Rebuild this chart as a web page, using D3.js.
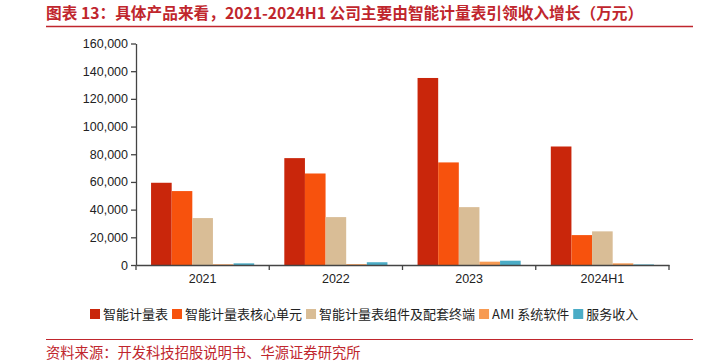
<!DOCTYPE html>
<html>
<head>
<meta charset="utf-8">
<script src="https://cdn.jsdelivr.net/npm/d3@7"></script>
<style>
  body { margin: 0; background: #fff; }
  svg { display: block; }
</style>
</head>
<body>
<svg class="bar-chart"></svg>
<script>
const categories = ['2021', '2022', '2023', '2024H1'];
const seriesNames = ['智能计量表', '智能计量表核心单元', '智能计量表组件及配套终端', 'AMI 系统软件', '服务收入'];
const meter = [59400, 77200, 135100, 85600];
const coreUnit = [53400, 66100, 74100, 21600];
const parts = [33900, 34600, 41800, 24300];
const ami = [500, 600, 2400, 1200];
const service = [1200, 2000, 3100, 400];
const yTicks = [0, 20000, 40000, 60000, 80000, 100000, 120000, 140000, 160000];
const colors = ['#c9260b', '#f7520d', '#d9bd96', '#f79a52', '#4bacc6'];

const svgWidth = 703;
const svgHeight = 361;
const margin = {top: 43.5, right: 34, bottom: 96, left: 136};
const width = svgWidth - margin.left - margin.right;
const height = svgHeight - margin.top - margin.bottom;

const seriesValues = [meter, coreUnit, parts, ami, service];
const data = categories.map((c, i) => ({
    cat: c,
    values: seriesValues.map((s, j) => ({key: seriesNames[j], value: s[i], color: colors[j]}))
}));

const svg = d3.select('.bar-chart')
    .attr('width', svgWidth)
    .attr('height', svgHeight);

// title + rule
svg.append('text')
    .attr('x', 46)
    .attr('y', 19)
    .attr('fill', '#c0262d')
    .attr('font-family', '"Noto Sans CJK SC", sans-serif')
    .attr('font-weight', 'bold')
    .attr('font-size', 15.7)
    .text('图表 13：具体产品来看，2021-2024H1 公司主要由智能计量表引领收入增长（万元）');
svg.append('line')
    .attr('x1', 46).attr('x2', 693)
    .attr('y1', 26.5).attr('y2', 26.5)
    .attr('stroke', '#c0262d')
    .attr('stroke-width', 1.5);

const g = svg.append('g')
    .attr('transform', `translate(${margin.left}, ${margin.top})`);

const x0 = d3.scaleBand()
    .domain(categories)
    .range([0, width])
    .padding(0);
const x1 = d3.scaleBand()
    .domain(seriesNames)
    .range([0, x0.bandwidth()])
    .paddingInner(0)
    .paddingOuter(0.73);
const y = d3.scaleLinear()
    .domain([0, 160000])
    .range([height, 0]);

// bars
g.selectAll('.group')
    .data(data)
    .enter().append('g')
    .attr('transform', d => `translate(${x0(d.cat)}, 0)`)
    .selectAll('rect')
    .data(d => d.values)
    .enter().append('rect')
    .attr('x', d => x1(d.key))
    .attr('y', d => y(d.value))
    .attr('width', x1.bandwidth())
    .attr('height', d => height - y(d.value))
    .attr('fill', d => d.color);

// y axis
const yAxis = g.append('g')
    .call(d3.axisLeft(y)
        .tickValues(yTicks)
        .tickFormat(d3.format(','))
        .tickSize(5)
        .tickSizeOuter(0)
        .tickPadding(3));
yAxis.selectAll('text')
    .attr('font-family', '"Liberation Sans", Arial, sans-serif')
    .attr('font-size', 12.5)
    .attr('fill', '#222');
yAxis.selectAll('line, path')
    .attr('stroke', '#444')
    .attr('stroke-width', 1.3);

// x axis: labels at band centres, ticks at band edges
const xAxis = g.append('g')
    .attr('transform', `translate(0, ${height})`)
    .call(d3.axisBottom(x0).tickSize(0).tickPadding(9));
xAxis.select('.domain')
    .attr('stroke', '#444')
    .attr('stroke-width', 1.3);
xAxis.selectAll('text')
    .attr('font-family', '"Liberation Sans", Arial, sans-serif')
    .attr('font-size', 12.5)
    .attr('fill', '#222');
const edges = categories.map(c => x0(c)).concat([x0(categories[categories.length - 1]) + x0.bandwidth()]);
xAxis.selectAll('.edge')
    .data(edges)
    .enter().append('line')
    .attr('x1', d => d).attr('x2', d => d)
    .attr('y1', 0).attr('y2', 5)
    .attr('stroke', '#444')
    .attr('stroke-width', 1.3);

// legend
const legend = svg.append('g')
    .attr('transform', 'translate(90, 314)');
let lx = 0;
seriesNames.forEach((name, i) => {
    const item = legend.append('g').attr('transform', `translate(${lx}, 0)`);
    item.append('rect')
        .attr('x', 0).attr('y', -5)
        .attr('width', 10).attr('height', 10)
        .attr('fill', colors[i]);
    const t = item.append('text')
        .attr('x', 13)
        .attr('y', 4.5)
        .attr('font-family', '"Noto Sans CJK SC", sans-serif')
        .attr('font-size', 13)
        .attr('fill', '#222')
        .text(name);
    lx += 13 + t.node().getComputedTextLength() + 4;
});

// source
svg.append('line')
    .attr('x1', 46).attr('x2', 693)
    .attr('y1', 339.5).attr('y2', 339.5)
    .attr('stroke', '#c0262d')
    .attr('stroke-width', 1.2);
svg.append('text')
    .attr('x', 46)
    .attr('y', 358)
    .attr('fill', '#c0262d')
    .attr('font-family', '"Noto Sans CJK SC", sans-serif')
    .attr('font-size', 14.3)
    .text('资料来源：开发科技招股说明书、华源证券研究所');
</script>
</body>
</html>
